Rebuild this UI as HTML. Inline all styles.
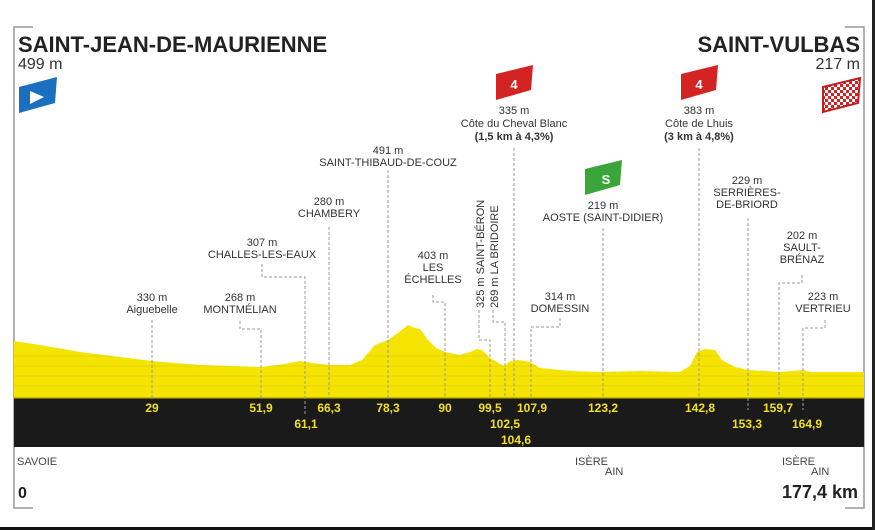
<!DOCTYPE html>
<html><head><meta charset="utf-8"><style>
body{margin:0;background:#fff;}
svg{display:block;font-family:"Liberation Sans",sans-serif;}
</style></head><body>
<svg width="875" height="530" viewBox="0 0 875 530" xmlns="http://www.w3.org/2000/svg">
<defs>
<path id="prof" d="M14,341 L40,345 L80,352 L120,357 L152,361 L200,365 L230,366 L261,367 L285,364 L300,361 L312,363 L330,365 L350,365 L362,360 L375,345 L388,340 L398,333 L408,325 L415,328 L420,329 L428,340 L436,348 L445,352 L460,355 L470,352 L477,349 L482,350 L490,358 L500,364 L505,366 L510,361 L518,360 L530,362 L540,368 L570,371 L600,372 L640,371 L680,372 L690,366 L697,352 L705,349 L715,350 L722,360 L735,367 L748,370 L780,372 L803,370 L810,372 L864,372 L864,399 L14,399 Z"/>
<clipPath id="pc"><use href="#prof"/></clipPath>
<pattern id="chk" width="6" height="6" patternUnits="userSpaceOnUse">
<rect width="6" height="6" fill="#fff"/><rect width="3" height="3" fill="#d42323"/><rect x="3" y="3" width="3" height="3" fill="#d42323"/>
</pattern>
</defs>
<rect width="875" height="530" fill="#fff"/>
<rect x="0" y="527" width="875" height="3" fill="#111"/>
<rect x="872" y="0" width="3" height="530" fill="#222"/>
<polyline points="33,27 14,27 14,508 33,508" fill="none" stroke="#999" stroke-width="1.5"/>
<polyline points="845,27 864,27 864,508 845,508" fill="none" stroke="#999" stroke-width="1.5"/>
<use href="#prof" fill="#f5e400"/>
<g stroke="#dcc400" stroke-width="0.8" opacity="0.7" clip-path="url(#pc)">
<line x1="14" y1="356" x2="864" y2="356"/><line x1="14" y1="366" x2="864" y2="366"/>
<line x1="14" y1="376" x2="864" y2="376"/><line x1="14" y1="386" x2="864" y2="386"/>
</g>
<rect x="14" y="398" width="850" height="49" fill="#1a1a1a"/>
<rect x="14" y="397" width="850" height="1.5" fill="#c8b800"/>
<g stroke="#999" stroke-width="1" stroke-dasharray="3,2" fill="none">
<line x1="152" y1="320" x2="152" y2="398"/>
<polyline points="240,321 240,329 261,329 261,398"/>
<polyline points="262,264 262,277 305,277 305,415"/>
<line x1="329" y1="227" x2="329" y2="398"/>
<line x1="388" y1="170" x2="388" y2="398"/>
<polyline points="433,295 433,302 445,302 445,398"/>
<polyline points="479,310 479,340 490,340 490,398"/>
<polyline points="493,310 493,322 505,322 505,398"/>
<line x1="514" y1="148" x2="514" y2="398"/>
<polyline points="560,318 560,327 531,327 531,398"/>
<line x1="603" y1="228" x2="603" y2="398"/>
<line x1="699" y1="148" x2="699" y2="398"/>
<line x1="748" y1="218" x2="748" y2="410"/>
<polyline points="802,275 802,283 779,283 779,398"/>
<polyline points="825,320 825,328 803,328 803,410"/>
</g>
<g fill="#f0e020" font-weight="bold" font-size="12" text-anchor="middle">
<text x="152" y="412">29</text><text x="261" y="412">51,9</text>
<text x="306" y="428">61,1</text><text x="329" y="412">66,3</text>
<text x="388" y="412">78,3</text><text x="445" y="412">90</text>
<text x="490" y="412">99,5</text><text x="505" y="428">102,5</text>
<text x="516" y="444">104,6</text><text x="532" y="412">107,9</text>
<text x="603" y="412">123,2</text><text x="700" y="412">142,8</text>
<text x="747" y="428">153,3</text><text x="778" y="412">159,7</text>
<text x="807" y="428">164,9</text>
</g>
<text x="18" y="52" font-size="22" font-weight="bold" fill="#222">SAINT-JEAN-DE-MAURIENNE</text>
<text x="18" y="69" font-size="16" fill="#333">499 m</text>
<text x="860" y="52" font-size="22" font-weight="bold" fill="#222" text-anchor="end">SAINT-VULBAS</text>
<text x="860" y="69" font-size="16" fill="#333" text-anchor="end">217 m</text>
<path d="M19,87 L57,77 L55,103 L19,113 Z" fill="#1a6fbf"/>
<path d="M30,91 L44,97 L30,104 Z" fill="#fff"/>
<path d="M496,74 L533,65 L531,90 L496,100 Z" fill="#d42323"/>
<text x="514" y="89" font-size="13" font-weight="bold" fill="#fff" text-anchor="middle">4</text>
<path d="M681,74 L718,65 L716,90 L681,100 Z" fill="#d42323"/>
<text x="699" y="89" font-size="13" font-weight="bold" fill="#fff" text-anchor="middle">4</text>
<path d="M585,169 L622,160 L620,185 L585,195 Z" fill="#3aa63a"/>
<text x="606" y="184" font-size="13" font-weight="bold" fill="#fff" text-anchor="middle">S</text>
<path d="M823,87 L860,78 L858,103 L823,112 Z" fill="url(#chk)" stroke="#c01e1e" stroke-width="2"/>
<g font-size="11" fill="#333" text-anchor="middle">
<text x="152" y="301">330 m</text><text x="152" y="313">Aiguebelle</text>
<text x="240" y="301">268 m</text><text x="240" y="313">MONTMÉLIAN</text>
<text x="262" y="246">307 m</text><text x="262" y="258">CHALLES-LES-EAUX</text>
<text x="329" y="205">280 m</text><text x="329" y="217">CHAMBERY</text>
<text x="388" y="154">491 m</text><text x="388" y="166">SAINT-THIBAUD-DE-COUZ</text>
<text x="433" y="259">403 m</text><text x="433" y="271">LES</text><text x="433" y="283">ÉCHELLES</text>
<text x="514" y="114">335 m</text><text x="514" y="127">Côte du Cheval Blanc</text>
<text x="514" y="140" font-weight="bold">(1,5 km à 4,3%)</text>
<text x="699" y="114">383 m</text><text x="699" y="127">Côte de Lhuis</text>
<text x="699" y="140" font-weight="bold">(3 km à 4,8%)</text>
<text x="603" y="209">219 m</text><text x="603" y="221">AOSTE (SAINT-DIDIER)</text>
<text x="747" y="184">229 m</text><text x="747" y="196">SERRIÈRES-</text><text x="747" y="208">DE-BRIORD</text>
<text x="802" y="239">202 m</text><text x="802" y="251">SAULT-</text><text x="802" y="263">BRÉNAZ</text>
<text x="560" y="300">314 m</text><text x="560" y="312">DOMESSIN</text>
<text x="823" y="300">223 m</text><text x="823" y="312">VERTRIEU</text>
<text transform="translate(484,308) rotate(-90)" text-anchor="start">325 m SAINT-BÉRON</text>
<text transform="translate(498,308) rotate(-90)" text-anchor="start">269 m LA BRIDOIRE</text>
</g>
<g font-size="11" fill="#444">
<text x="17" y="465">SAVOIE</text>
<text x="575" y="465">ISÈRE</text><text x="605" y="475">AIN</text>
<text x="782" y="465">ISÈRE</text><text x="811" y="475">AIN</text>
</g>
<text x="18" y="498" font-size="16" font-weight="bold" fill="#222">0</text>
<text x="858" y="498" font-size="18" font-weight="bold" fill="#222" text-anchor="end">177,4 km</text>
</svg>
</body></html>
